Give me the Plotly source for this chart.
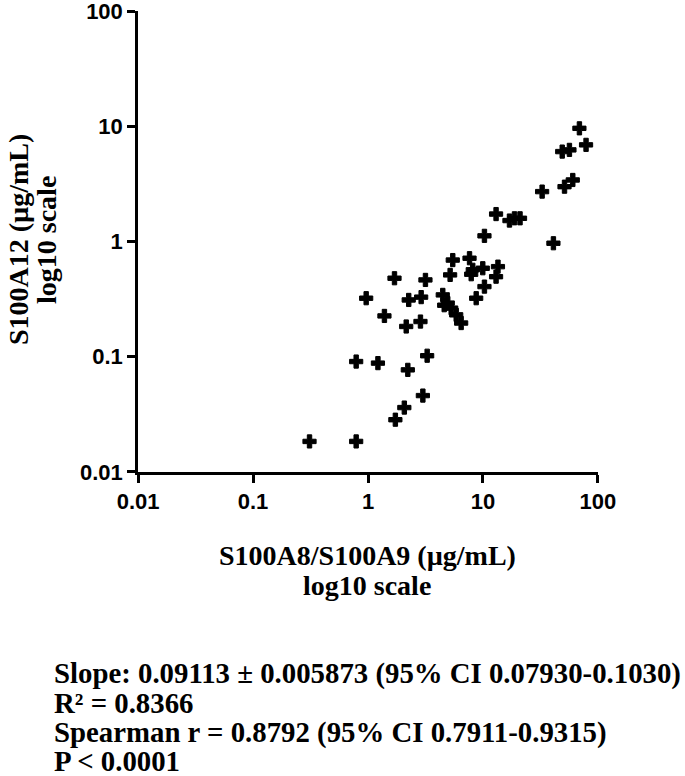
import plotly.graph_objects as go

# Data (µg/mL)
s100a8a9 = [69, 78.8, 48.9, 56.5, 60.4, 51.2, 32.7, 13.0, 17.0, 18.8, 21.0, 10.3, 41.0,
            5.46, 5.18, 7.64, 8.15, 9.96, 13.5, 13.0, 10.3, 8.73, 4.47, 4.94, 5.29, 5.85, 6.46, 4.6, 7.9,
            1.70, 3.16, 0.964, 2.26, 2.90, 1.39, 2.15, 2.86,
            0.789, 1.22, 2.22, 3.27, 3.0, 2.07, 1.73, 0.31, 0.789]
s100a12 = [9.6, 6.9, 6.03, 6.24, 3.42, 2.99, 2.71, 1.73, 1.52, 1.59, 1.59, 1.12, 0.966,
           0.69, 0.513, 0.716, 0.568, 0.586, 0.605, 0.495, 0.406, 0.322, 0.344, 0.292, 0.264, 0.231, 0.196, 0.28, 0.52,
           0.48, 0.464, 0.322, 0.311, 0.329, 0.226, 0.183, 0.202,
           0.0908, 0.088, 0.0769, 0.102, 0.046, 0.0362, 0.0284, 0.0184, 0.0184]

tick_vals = [0.01, 0.1, 1, 10, 100]
tick_text = ["0.01", "0.1", "1", "10", "100"]

x_title = ["S100A8/S100A9 (µg/mL)", "log10 scale"]
y_title = ["S100A12 (µg/mL)", "log10 scale"]
stats_lines = [
    "Slope: 0.09113 ± 0.005873 (95% CI 0.07930-0.1030)",
    "R² = 0.8366",
    "Spearman r = 0.8792 (95% CI 0.7911-0.9315)",
    "P < 0.0001",
]

W, H = 685, 776
L, R, T, B = 138, 598, 11, 472  # plot area in pixels


def px(x):
    return (x - L) / (R - L)


def py(y):
    return (B - y) / (B - T)


fig = go.Figure()
fig.add_trace(go.Scatter(
    x=s100a8a9, y=s100a12, mode="markers",
    marker=dict(symbol="cross", size=11, color="black", line=dict(color="black", width=1)),
    showlegend=False, cliponaxis=False,
))

axis_common = dict(
    type="log", range=[-2.0005, 2.0005], tickmode="array", tickvals=tick_vals, ticktext=tick_text,
    showgrid=False, zeroline=False, showline=True, linecolor="black", linewidth=2.5,
    ticks="outside", ticklen=8, tickwidth=2.5, tickcolor="black", automargin=False,
    ticklabeloverflow="allow",
    tickfont=dict(family="Liberation Sans", size=22, color="black", weight="bold"),
)
fig.update_xaxes(**axis_common)
fig.update_yaxes(**axis_common)

serif = dict(family="Liberation Serif", size=28, color="black", weight="bold")
annos = []
# x title lines
for txt, yc in zip(x_title, [555, 585]):
    annos.append(dict(text=txt, xref="paper", yref="paper", x=px(367), y=py(yc),
                      xanchor="center", yanchor="middle", showarrow=False, font=serif))
# y title lines (rotated)
for txt, xc in zip(y_title, [19, 47]):
    annos.append(dict(text=txt, xref="paper", yref="paper", x=px(xc), y=py(240),
                      xanchor="center", yanchor="middle", textangle=-90, showarrow=False, font=serif))
# stats text
for txt, yc in zip(stats_lines, [673, 703, 732, 761]):
    annos.append(dict(text=txt, xref="paper", yref="paper", x=px(52), y=py(yc),
                      xanchor="left", yanchor="middle", showarrow=False,
                      font=dict(family="Liberation Serif", size=28.8, color="black", weight="bold")))

fig.update_layout(
    width=W, height=H, autosize=False,
    margin=dict(l=L, r=W - R, t=T, b=H - B, pad=0, autoexpand=False),
    plot_bgcolor="white", paper_bgcolor="white",
    annotations=annos,
)

fig.write_html("out.html", config={"displayModeBar": False},
               post_script="document.body.style.margin='0px';")
